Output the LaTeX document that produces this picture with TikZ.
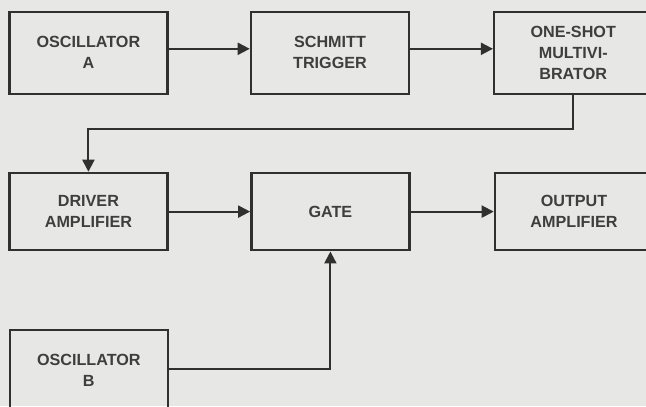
\documentclass[tikz,border=0pt]{standalone}
\usepackage{fontspec}
\setmainfont{Liberation Sans}
\usepackage{tikz}
\usetikzlibrary{arrows.meta,positioning}
\definecolor{PaperGray}{RGB}{231,231,229}
\definecolor{InkGray}{RGB}{48,48,48}
\definecolor{TextGray}{RGB}{62,62,62}

\begin{document}
\begin{tikzpicture}[
  box/.style={draw=InkGray,line width=1.8pt,minimum width=3.95cm,
              minimum height=2.05cm,align=center,text=TextGray,
              font=\bfseries\fontsize{11.5}{15}\selectfont},
  lowbox/.style={box,minimum height=1.93cm},
  arr/.style={-{Triangle[length=3mm,width=3mm]},line width=1.4pt,InkGray},
]
\fill[PaperGray] (0,0) rectangle (16.15,10.15);
\useasboundingbox (0,0) rectangle (16.15,10.15);
\node[box] (oscA) at (2.21,8.83) {OSCILLATOR\\A};
\node[box] (schmitt) at (8.25,8.83) {SCHMITT\\TRIGGER};
\node[box] (oneshot) at (14.33,8.83) {ONE-SHOT\\MULTIVI-\\BRATOR};
\node[lowbox] (driver) at (2.21,4.86) {DRIVER\\AMPLIFIER};
\node[lowbox] (gate) at (8.26,4.86) {GATE};
\node[lowbox] (output) at (14.35,4.86) {OUTPUT\\AMPLIFIER};
\node[box] (oscB) at (2.22,0.88) {OSCILLATOR\\B};
\draw[arr] ([yshift=1mm]oscA.east) -- ([yshift=1mm]schmitt.west);
\draw[arr] ([yshift=1mm]schmitt.east) -- ([yshift=1mm]oneshot.west);
\draw[arr] (oneshot.south) -- ++(0,-0.85) -| (driver.north);
\draw[arr] (driver) -- (gate);
\draw[arr] (gate) -- (output);
\draw[arr] ([yshift=0.5mm]oscB.east) -| (gate.south);
\end{tikzpicture}
\end{document}
